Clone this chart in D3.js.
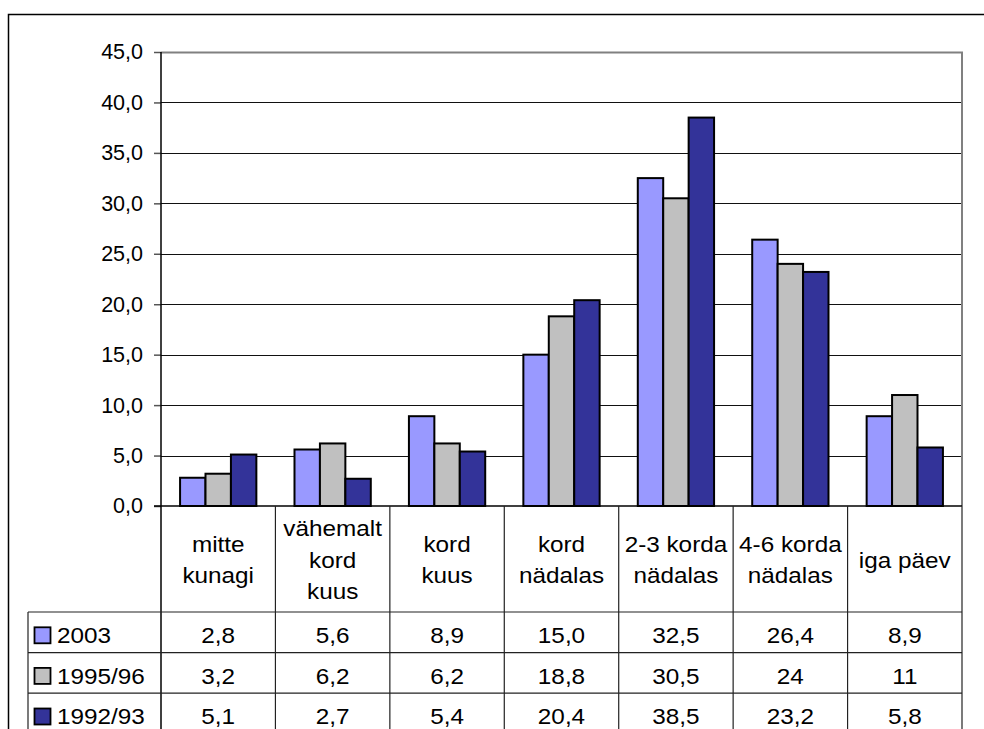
<!DOCTYPE html>
<html>
<head>
<meta charset="utf-8">
<script src="https://cdn.jsdelivr.net/npm/d3@7"></script>
<style>
  html, body { margin: 0; padding: 0; background: #fff; }
  svg { display: block; }
  text { font-family: Arial, "Liberation Sans", sans-serif; fill: #000; }
</style>
</head>
<body>
<svg id="chart" width="984" height="729"></svg>
<script>
// ---- data ----
const categories = [
  ["mitte", "kunagi"],
  ["vähemalt", "kord", "kuus"],
  ["kord", "kuus"],
  ["kord", "nädalas"],
  ["2-3 korda", "nädalas"],
  ["4-6 korda", "nädalas"],
  ["iga päev"]
];
const seriesNames = ["2003", "1995/96", "1992/93"];
const values2003   = [2.8, 5.6, 8.9, 15.0, 32.5, 26.4, 8.9];
const values199596 = [3.2, 6.2, 6.2, 18.8, 30.5, 24, 11];
const values199293 = [5.1, 2.7, 5.4, 20.4, 38.5, 23.2, 5.8];
const seriesFormats = ["fixed1", "general", "fixed1"];
const seriesColors = ["#9999FF", "#C0C0C0", "#333399"];
const yTicks = [0, 5, 10, 15, 20, 25, 30, 35, 40, 45];

const seriesValues = [values2003, values199596, values199293];

// ---- layout ----
const svg = d3.select("#chart");
const plot = { left: 161, right: 962, top: 52, bottom: 506 };
const table = { left: 28, headerBottom: 612, rowH: 40.6 };
const fmtComma = s => s.replace(".", ",");
const fmtVal = (v, f) => f === "fixed1" ? fmtComma(d3.format(".1f")(v)) : fmtComma(String(v));

const x0 = d3.scaleBand().domain(d3.range(categories.length)).range([plot.left, plot.right]).paddingInner(0).paddingOuter(0);
// group = 3 bars + 1.5 bar gap (Excel gap width 150%)
const barW = x0.bandwidth() / 4.5;
const y = d3.scaleLinear().domain([0, 45]).range([plot.bottom, plot.top]);

// outer border
svg.append("rect").attr("x", 8.5).attr("y", 14.5).attr("width", 1000).attr("height", 1000)
  .attr("fill", "none").attr("stroke", "#000").attr("stroke-width", 1.5);

// gridlines
svg.append("g").selectAll("line").data(yTicks.filter(t => t > 0 && t < 45)).join("line")
  .attr("x1", plot.left).attr("x2", plot.right)
  .attr("y1", d => Math.round(y(d)) + 0.5).attr("y2", d => Math.round(y(d)) + 0.5)
  .attr("stroke", "#111").attr("stroke-width", 1);

// plot border top/right grey
svg.append("path")
  .attr("d", `M${plot.left},${plot.top + 0.5}H${plot.right}V${plot.bottom}`)
  .attr("fill", "none").attr("stroke", "#808080").attr("stroke-width", 2);

// bars
const groups = svg.append("g").selectAll("g").data(categories.map((c, i) => i)).join("g")
  .attr("transform", i => `translate(${x0(i)},0)`);
groups.selectAll("rect").data(i => seriesValues.map((vals, s) => ({ s, v: vals[i] }))).join("rect")
  .attr("x", d => barW * 0.75 + d.s * barW)
  .attr("width", barW)
  .attr("y", d => y(d.v))
  .attr("height", d => y(0) - y(d.v))
  .attr("fill", d => seriesColors[d.s])
  .attr("stroke", "#000").attr("stroke-width", 2);

// y axis
const yAxis = d3.axisLeft(y).tickValues(yTicks).tickSize(7).tickPadding(11)
  .tickFormat(d => fmtComma(d3.format(".1f")(d)));
const gy = svg.append("g").attr("transform", `translate(${plot.left},0)`).call(yAxis);
gy.select(".domain").remove();
gy.selectAll(".tick line").attr("stroke", "#555").attr("stroke-width", 1.5);
gy.selectAll(".tick text").attr("font-size", 21.5).attr("fill", "#000")
  .attr("font-family", "Arial, 'Liberation Sans', sans-serif");

// axis vertical line through table
svg.append("line").attr("x1", plot.left).attr("x2", plot.left).attr("y1", plot.top).attr("y2", 729)
  .attr("stroke", "#000").attr("stroke-width", 1.5);
// x axis line
svg.append("line").attr("x1", plot.left - 7).attr("x2", plot.right).attr("y1", plot.bottom).attr("y2", plot.bottom)
  .attr("stroke", "#000").attr("stroke-width", 1.5);

// table vertical lines
svg.append("g").selectAll("line").data(d3.range(1, categories.length + 1)).join("line")
  .attr("x1", i => i === categories.length ? plot.right : x0(i)).attr("x2", i => i === categories.length ? plot.right : x0(i))
  .attr("y1", plot.bottom).attr("y2", 729)
  .attr("stroke", "#222").attr("stroke-width", 1.2);
// table left line
svg.append("line").attr("x1", table.left).attr("x2", table.left).attr("y1", table.headerBottom).attr("y2", 729)
  .attr("stroke", "#222").attr("stroke-width", 1.2);
// table horizontal lines
svg.append("g").selectAll("line").data([0, 1, 2, 3]).join("line")
  .attr("x1", table.left).attr("x2", plot.right)
  .attr("y1", r => table.headerBottom + r * table.rowH).attr("y2", r => table.headerBottom + r * table.rowH)
  .attr("stroke", "#222").attr("stroke-width", 1.2);

const sx = 1.08;
const fs = 22.5;
// header labels
const headerCenter = (plot.bottom + table.headerBottom) / 2 + 1;
const lineH = 31.5;
categories.forEach((lines, i) => {
  const cx = x0(i) + x0.bandwidth() / 2;
  const y0 = headerCenter - (lines.length - 1) * lineH / 2;
  lines.forEach((ln, k) => {
    svg.append("text")
      .attr("transform", `translate(${cx},${y0 + k * lineH}) scale(${sx},1)`)
      .attr("text-anchor", "middle").attr("dominant-baseline", "central")
      .attr("font-size", fs).text(ln);
  });
});

// data rows
seriesNames.forEach((name, s) => {
  const cy = table.headerBottom + s * table.rowH + table.rowH / 2 + 3;
  svg.append("rect").attr("x", 34.5).attr("y", cy - 8).attr("width", 16).attr("height", 16)
    .attr("fill", seriesColors[s]).attr("stroke", "#000").attr("stroke-width", 1.8);
  svg.append("text")
    .attr("transform", `translate(57,${cy}) scale(${sx},1)`)
    .attr("dominant-baseline", "central").attr("font-size", fs).text(name);
  seriesValues[s].forEach((v, i) => {
    const cx = x0(i) + x0.bandwidth() / 2;
    svg.append("text")
      .attr("transform", `translate(${cx},${cy}) scale(${sx},1)`)
      .attr("text-anchor", "middle").attr("dominant-baseline", "central")
      .attr("font-size", fs).text(fmtVal(v, seriesFormats[s]));
  });
});
</script>
</body>
</html>
